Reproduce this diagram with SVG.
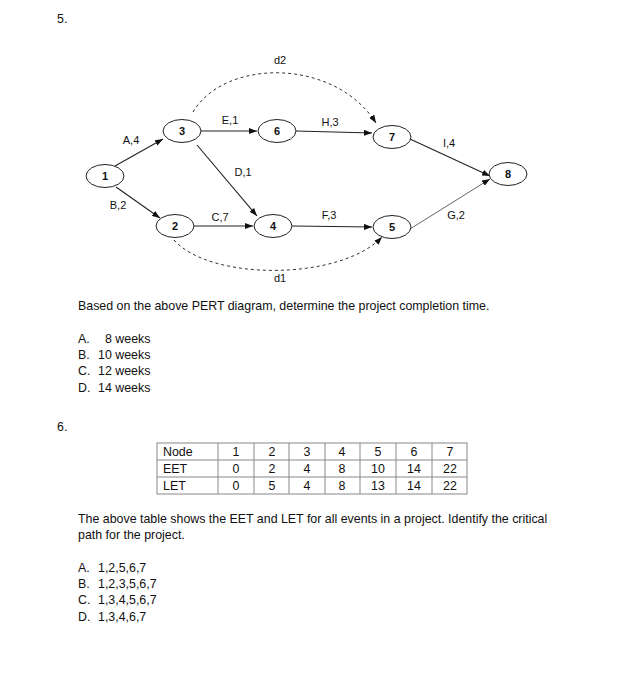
<svg xmlns="http://www.w3.org/2000/svg" width="638" height="700" viewBox="0 0 638 700">
<defs>
<style>
text{font-family:"Liberation Sans",Arial,sans-serif;fill:#111}
.q{font-size:12.4px}
.lbl{font-size:11px;text-anchor:middle}
.nl{font-size:11px;font-weight:bold;text-anchor:middle}
.node ellipse{fill:#fff;stroke:#222;stroke-width:1}
.e{stroke:#222;stroke-width:1.1;fill:none;marker-end:url(#ah)}
.g{stroke:#666;stroke-width:1;fill:none;marker-end:url(#ah)}
.dm{stroke:#333;stroke-width:1;fill:none;stroke-dasharray:3,3;marker-end:url(#ah)}
.tb{fill:none;stroke:#888;stroke-width:1}
.tc{font-size:12.4px;text-anchor:middle}
</style>
<marker id="ah" markerWidth="8" markerHeight="6" refX="8" refY="3" orient="auto" markerUnits="userSpaceOnUse">
<path d="M0,0 L8,3 L0,6 z" fill="#111"/>
</marker>
</defs>
<rect width="638" height="700" fill="#fff"/>
<text class="q" x="57" y="23">5.</text>
<g id="connectors">
<line class="e" x1="115" y1="166" x2="163" y2="139"/>
<line class="e" x1="116" y1="187" x2="160" y2="218"/>
<line class="e" x1="201" y1="131" x2="257" y2="131"/>
<line class="e" x1="296" y1="131" x2="372" y2="133"/>
<line class="e" x1="197" y1="145" x2="257" y2="216"/>
<line class="e" x1="194" y1="226" x2="253" y2="226"/>
<line class="e" x1="292" y1="226" x2="372" y2="227"/>
<line class="e" x1="410" y1="139" x2="490" y2="176"/>
<line class="g" x1="410" y1="229" x2="490" y2="179"/>
<path class="dm" d="M193,112 C225,58 335,58 376,123"/>
<path class="dm" d="M174,240 C210,281 340,281 382,237"/>
</g>
<g id="edge-labels">
<text class="lbl" x="131" y="144">A,4</text>
<text class="lbl" x="118" y="209">B,2</text>
<text class="lbl" x="230" y="124">E,1</text>
<text class="lbl" x="330" y="126">H,3</text>
<text class="lbl" x="243" y="176">D,1</text>
<text class="lbl" x="220" y="221">C,7</text>
<text class="lbl" x="329" y="219">F,3</text>
<text class="lbl" x="449" y="147">I,4</text>
<text class="lbl" x="456" y="219">G,2</text>
<text class="lbl" x="280" y="64">d2</text>
<text class="lbl" x="280" y="282">d1</text>
</g>
<g id="n1" class="node"><ellipse cx="105" cy="176" rx="19" ry="11.5"/><text class="nl" x="105" y="180">1</text></g>
<g id="n3" class="node"><ellipse cx="182" cy="131" rx="19" ry="11.5"/><text class="nl" x="182" y="135">3</text></g>
<g id="n6" class="node"><ellipse cx="277" cy="131" rx="19" ry="11.5"/><text class="nl" x="277" y="135">6</text></g>
<g id="n7" class="node"><ellipse cx="392" cy="137" rx="19" ry="11.5"/><text class="nl" x="392" y="141">7</text></g>
<g id="n8" class="node"><ellipse cx="508" cy="174" rx="19" ry="11.5"/><text class="nl" x="508" y="178">8</text></g>
<g id="n2" class="node"><ellipse cx="175" cy="226" rx="19" ry="11.5"/><text class="nl" x="175" y="230">2</text></g>
<g id="n4" class="node"><ellipse cx="273" cy="226" rx="19" ry="11.5"/><text class="nl" x="273" y="230">4</text></g>
<g id="n5" class="node"><ellipse cx="392" cy="227" rx="19" ry="11.5"/><text class="nl" x="392" y="231">5</text></g>
<text class="q" x="78" y="310">Based on the above PERT diagram, determine the project completion time.</text>
<text class="q" x="78" y="343">A.</text><text class="q" x="105" y="343">8 weeks</text>
<text class="q" x="78" y="359">B.</text><text class="q" x="98" y="359">10 weeks</text>
<text class="q" x="78" y="375">C.</text><text class="q" x="98" y="375">12 weeks</text>
<text class="q" x="78" y="392">D.</text><text class="q" x="98" y="392">14 weeks</text>
<text class="q" x="57" y="431">6.</text>
<g id="table">
<rect class="tb" x="157" y="443" width="310" height="51"/>
<line class="tb" x1="157" y1="460" x2="467" y2="460"/>
<line class="tb" x1="157" y1="477" x2="467" y2="477"/>
<line class="tb" x1="218" y1="443" x2="218" y2="494"/>
<line class="tb" x1="254" y1="443" x2="254" y2="494"/>
<line class="tb" x1="289" y1="443" x2="289" y2="494"/>
<line class="tb" x1="325" y1="443" x2="325" y2="494"/>
<line class="tb" x1="360" y1="443" x2="360" y2="494"/>
<line class="tb" x1="396" y1="443" x2="396" y2="494"/>
<line class="tb" x1="432" y1="443" x2="432" y2="494"/>
<text class="q" x="163" y="456">Node</text>
<text class="q" x="163" y="473">EET</text>
<text class="q" x="163" y="490">LET</text>
<text class="tc" x="236" y="456">1</text><text class="tc" x="272" y="456">2</text><text class="tc" x="307" y="456">3</text><text class="tc" x="342" y="456">4</text><text class="tc" x="378" y="456">5</text><text class="tc" x="414" y="456">6</text><text class="tc" x="450" y="456">7</text>
<text class="tc" x="236" y="473">0</text><text class="tc" x="272" y="473">2</text><text class="tc" x="307" y="473">4</text><text class="tc" x="342" y="473">8</text><text class="tc" x="378" y="473">10</text><text class="tc" x="414" y="473">14</text><text class="tc" x="450" y="473">22</text>
<text class="tc" x="236" y="490">0</text><text class="tc" x="272" y="490">5</text><text class="tc" x="307" y="490">4</text><text class="tc" x="342" y="490">8</text><text class="tc" x="378" y="490">13</text><text class="tc" x="414" y="490">14</text><text class="tc" x="450" y="490">22</text>
</g>
<text class="q" x="78" y="523">The above table shows the EET and LET for all events in a project. Identify the critical</text>
<text class="q" x="78" y="539">path for the project.</text>
<text class="q" x="78" y="572">A.</text><text class="q" x="98" y="572">1,2,5,6,7</text>
<text class="q" x="78" y="588">B.</text><text class="q" x="98" y="588">1,2,3,5,6,7</text>
<text class="q" x="78" y="604">C.</text><text class="q" x="98" y="604">1,3,4,5,6,7</text>
<text class="q" x="78" y="621">D.</text><text class="q" x="98" y="621">1,3,4,6,7</text>
</svg>
